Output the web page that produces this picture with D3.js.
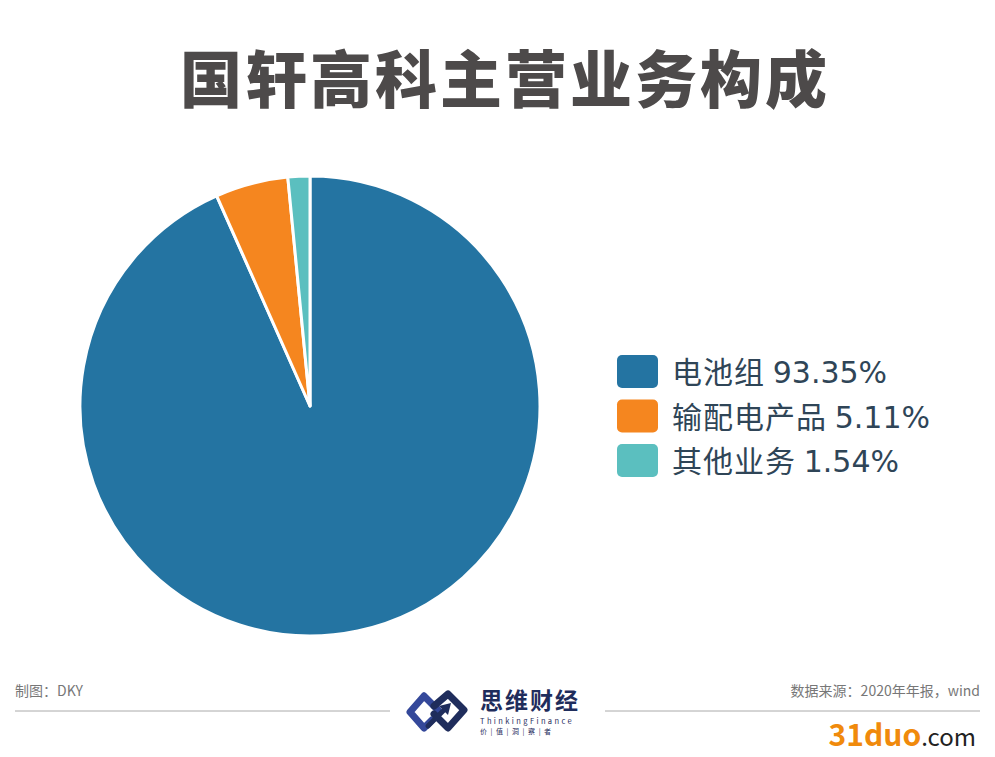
<!DOCTYPE html>
<html>
<head>
<meta charset="utf-8">
<script src="https://cdn.jsdelivr.net/npm/d3@7"></script>
<style>
  body { margin: 0; background: #fff; }
  text { font-family: "Noto Sans CJK SC", "Noto Sans", sans-serif; }
</style>
</head>
<body>
<div id="chart"></div>
<script>
var categories = ["电池组", "输配电产品", "其他业务"];
var shares = [93.35, 5.11, 1.54];
var colors = ["#2474a2", "#f5861f", "#5bbfbf"];

var svg = d3.select("#chart").append("svg").attr("width", 995).attr("height", 757),
    cx = 310, cy = 406, radius = 230;

svg.append("rect").attr("width", 995).attr("height", 757).attr("fill", "#fff");

// title
svg.append("text")
    .attr("x", 505).attr("y", 103)
    .attr("text-anchor", "middle")
    .attr("font-size", 62)
    .attr("font-weight", 900)
    .attr("letter-spacing", 3)
    .attr("fill", "#4d4a4a")
    .text("国轩高科主营业务构成");

var data = categories.map(function(c, i) { return {name: c, value: shares[i], color: colors[i]}; });

var pie = d3.pie().sort(null).value(function(d) { return d.value; });
var arc = d3.arc().innerRadius(0).outerRadius(radius);

var g = svg.append("g").attr("transform", "translate(" + cx + "," + cy + ")");
g.selectAll("path")
  .data(pie(data))
  .enter().append("path")
    .attr("d", arc)
    .attr("fill", function(d) { return d.data.color; })
    .attr("stroke", "#fff")
    .attr("stroke-width", 3)
    .attr("stroke-linejoin", "round");

// legend
var legend = svg.append("g").attr("transform", "translate(617,355)");
var rows = legend.selectAll("g")
  .data(data)
  .enter().append("g")
    .attr("transform", function(d, i) { return "translate(0," + (i * 44.5) + ")"; });
rows.append("rect")
    .attr("width", 41).attr("height", 33)
    .attr("rx", 5)
    .attr("fill", function(d) { return d.color; });
var lt = rows.append("text")
    .attr("x", 55).attr("y", 28)
    .attr("font-size", 30)
    .attr("fill", "#2f4557");
lt.append("tspan").attr("letter-spacing", 1).text(function(d) { return d.name + " "; });
lt.append("tspan")
    .style("font-family", "'DejaVu Sans', sans-serif")
    .text(function(d) { return d3.format(".2f")(d.value) + "%"; });

// footer
svg.append("text").attr("x", 15).attr("y", 696)
    .attr("font-size", 14).attr("fill", "#777").text("制图：DKY");
svg.append("text").attr("x", 980).attr("y", 696)
    .attr("text-anchor", "end")
    .attr("font-size", 14).attr("fill", "#777").text("数据来源：2020年年报，wind");
svg.append("line").attr("x1", 15).attr("x2", 390).attr("y1", 711).attr("y2", 711)
    .attr("stroke", "#aaa").attr("stroke-width", 1);
svg.append("line").attr("x1", 605).attr("x2", 980).attr("y1", 711).attr("y2", 711)
    .attr("stroke", "#aaa").attr("stroke-width", 1);

// logo: two linked diamonds with an arrow
var logo = svg.append("g").attr("transform", "translate(404,688)");
logo.append("path")
    .attr("d", "M20,8 L34,22 M20,8 L6,24 L20,40 L28,32")
    .attr("fill", "none").attr("stroke", "#34489a").attr("stroke-width", 7)
    .attr("stroke-linejoin", "round").attr("stroke-linecap", "round");
logo.append("path")
    .attr("d", "M30,18 L44,6 L60,22 L44,40 L30,26")
    .attr("fill", "none").attr("stroke", "#1f2d5c").attr("stroke-width", 7)
    .attr("stroke-linejoin", "round").attr("stroke-linecap", "round");
logo.append("path")
    .attr("d", "M24,38 L40,22")
    .attr("stroke", "#1f2d5c").attr("stroke-width", 5).attr("stroke-linecap", "round");
logo.append("path")
    .attr("d", "M35,18 L47,15 L44,27 Z")
    .attr("fill", "#1f2d5c");
logo.append("text").attr("x", 76).attr("y", 21)
    .attr("font-size", 23).attr("font-weight", "bold").attr("fill", "#1f2d5c")
    .attr("letter-spacing", 2).text("思维财经");
logo.append("text").attr("x", 76).attr("y", 36)
    .attr("font-size", 7.5).attr("fill", "#1f2d5c")
    .attr("letter-spacing", 2.4).text("ThinkingFinance");
logo.append("text").attr("x", 76).attr("y", 46)
    .attr("font-size", 7).attr("fill", "#1f2d5c")
    .attr("letter-spacing", 1).text("价 | 值 | 洞 | 察 | 者");

// watermark
var wm = svg.append("text").attr("x", 976).attr("y", 746)
    .attr("text-anchor", "end")
    .attr("font-family", "Liberation Sans, sans-serif")
    .attr("font-weight", "bold");
wm.append("tspan").attr("font-size", 30).attr("fill", "#f08a0c").text("31duo");
wm.append("tspan").attr("font-size", 24).attr("font-weight", "normal").attr("fill", "#222").text(".com");
</script>
</body>
</html>
